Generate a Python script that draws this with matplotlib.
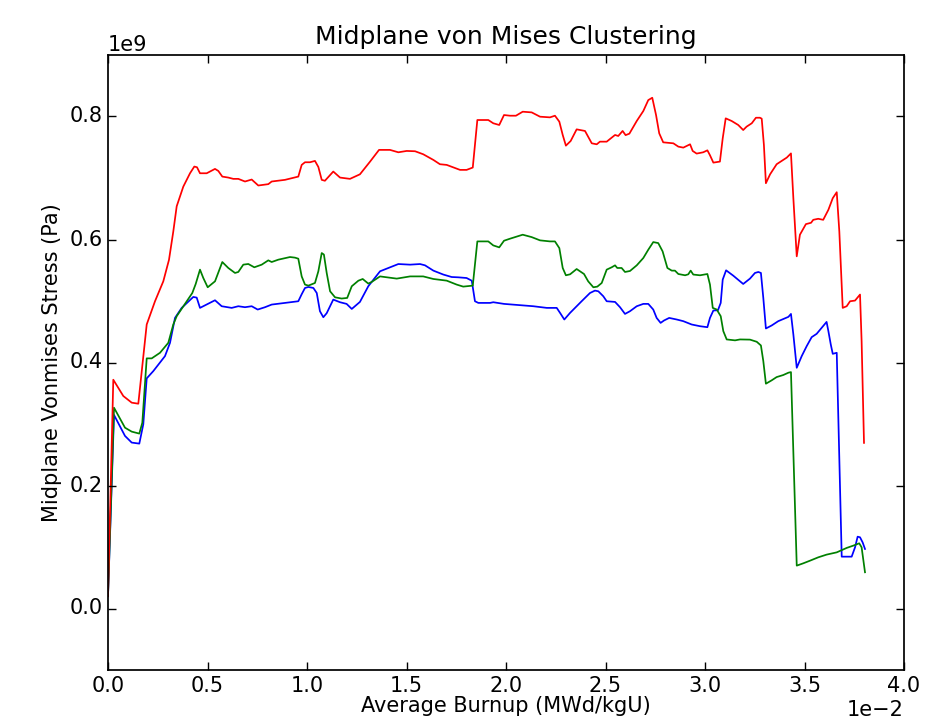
"""
plot.py  -  Midplane von Mises stress vs. average burnup for three clusters.
"""

import matplotlib
matplotlib.use("Agg")
import matplotlib.pyplot as plt
from matplotlib.ticker import MultipleLocator

# ---------------------------------------------------------------------------
# Data (burnup in MWd/kgU, stress in GPa -> converted to Pa when plotted)
# ---------------------------------------------------------------------------
blue_burnup = [
    0.0, 0.000302, 0.000854, 0.001191, 0.001573, 0.001774, 0.001945, 0.002276,
    0.002864, 0.003116, 0.003367, 0.003703, 0.004286, 0.004457, 0.004623,
    0.005377, 0.005713, 0.006216, 0.006548, 0.006884, 0.007221, 0.007522,
    0.007889, 0.008226, 0.008894, 0.009563, 0.009733, 0.009899, 0.01007,
    0.01032, 0.01049, 0.01065, 0.01082, 0.01099, 0.01132, 0.01166, 0.01199,
    0.01225, 0.01266, 0.01308, 0.01367, 0.01409, 0.01459, 0.01518, 0.01568,
    0.01593, 0.01635, 0.01685, 0.01727, 0.0176, 0.01802, 0.01828, 0.01844,
    0.01861, 0.0192, 0.01936, 0.0199, 0.02137, 0.02205, 0.02255, 0.02275,
    0.02293, 0.02322, 0.0238, 0.02422, 0.02447, 0.02464, 0.02489, 0.02506,
    0.02548, 0.02573, 0.02598, 0.02623, 0.02657, 0.0269, 0.02715, 0.0274,
    0.02757, 0.02777, 0.02794, 0.0282, 0.02858, 0.02891, 0.02933, 0.02975,
    0.03012, 0.03025, 0.03042, 0.03065, 0.03079, 0.03089, 0.03106, 0.03142,
    0.03192, 0.03226, 0.03251, 0.03268, 0.03281, 0.03293, 0.03306, 0.03335,
    0.03368, 0.03419, 0.03432, 0.03444, 0.03461, 0.03486, 0.03511, 0.03536,
    0.03561, 0.03586, 0.03611, 0.0362, 0.03632, 0.03642, 0.03662, 0.03687,
    0.03737, 0.03754, 0.03767, 0.03779, 0.03792, 0.03804,
]
blue_stress = [
    0.02, 0.3147, 0.2806, 0.2698, 0.2681, 0.2996, 0.3742, 0.386,
    0.4104, 0.432, 0.4725, 0.4888, 0.5066, 0.5055, 0.4888,
    0.5012, 0.4915, 0.4888, 0.4915, 0.4899, 0.4915, 0.4861,
    0.4899, 0.4942, 0.4969, 0.4996, 0.511, 0.5212, 0.5228,
    0.5212, 0.513, 0.4834, 0.4736, 0.4802, 0.5023, 0.498, 0.4953,
    0.4871, 0.4985, 0.524, 0.5483, 0.5537, 0.5601, 0.5591, 0.5601,
    0.558, 0.5494, 0.543, 0.539, 0.5385, 0.5374, 0.533, 0.4996,
    0.4969, 0.4969, 0.498, 0.4953, 0.4915, 0.4888, 0.4888, 0.479,
    0.4699, 0.4807, 0.4996, 0.513, 0.5169, 0.5158, 0.5077, 0.4996,
    0.4985, 0.4899, 0.479, 0.4834, 0.4915, 0.4953, 0.4953, 0.4861,
    0.4725, 0.4644, 0.4683, 0.4725, 0.4699, 0.4672, 0.4618, 0.459,
    0.4574, 0.4725, 0.4845, 0.485, 0.4969, 0.5348, 0.5499, 0.5412,
    0.5277, 0.5364, 0.5456, 0.5472, 0.5456, 0.505, 0.4553, 0.4602,
    0.4672, 0.4742, 0.479, 0.4456, 0.3914, 0.4104, 0.4266, 0.4412,
    0.4466, 0.4563, 0.466, 0.451, 0.4294, 0.4141, 0.4158, 0.0843,
    0.0843, 0.0995, 0.1168, 0.1158, 0.1076, 0.0968,
]

green_burnup = [
    0.0, 0.000302, 0.000854, 0.001191, 0.001573, 0.001724, 0.001945, 0.002196,
    0.002613, 0.00303, 0.003281, 0.003452, 0.003869, 0.004236, 0.004407,
    0.004623, 0.004789, 0.00501, 0.005377, 0.005744, 0.006045, 0.006382,
    0.006548, 0.006799, 0.00705, 0.007352, 0.007724, 0.008055, 0.008226,
    0.008558, 0.009146, 0.009397, 0.009563, 0.009733, 0.009899, 0.01007,
    0.0104, 0.01057, 0.01074, 0.01085, 0.01099, 0.01116, 0.01141, 0.01174,
    0.01202, 0.01225, 0.01258, 0.0128, 0.01308, 0.01325, 0.01367, 0.01451,
    0.01518, 0.01584, 0.01635, 0.01702, 0.01752, 0.01785, 0.01833, 0.01856,
    0.01911, 0.01936, 0.01966, 0.0199, 0.0202, 0.02084, 0.02129, 0.02171,
    0.02221, 0.02246, 0.02268, 0.02285, 0.02301, 0.02322, 0.02355, 0.02392,
    0.02413, 0.02439, 0.02459, 0.02481, 0.02506, 0.02531, 0.02548, 0.02559,
    0.02581, 0.02598, 0.02623, 0.02657, 0.0269, 0.02715, 0.0274, 0.02765,
    0.02787, 0.02811, 0.02833, 0.02849, 0.02866, 0.029, 0.02916, 0.02928,
    0.02941, 0.02975, 0.03012, 0.03025, 0.03039, 0.03059, 0.03079, 0.03092,
    0.03109, 0.03151, 0.03176, 0.03226, 0.0326, 0.03281, 0.03293, 0.03306,
    0.03335, 0.0336, 0.03393, 0.03419, 0.03432, 0.03461, 0.03494, 0.03528,
    0.03569, 0.03611, 0.03662, 0.03712, 0.03745, 0.03775, 0.03787, 0.03804,
]
green_stress = [
    0.02, 0.3265, 0.294, 0.2876, 0.2844, 0.302, 0.4067, 0.4067,
    0.4158, 0.432, 0.4618, 0.4753, 0.4953, 0.513, 0.5277,
    0.551, 0.5374, 0.5223, 0.532, 0.5634, 0.5537, 0.5456,
    0.5472, 0.5591, 0.5602, 0.5548, 0.5591, 0.5661, 0.5634,
    0.5672, 0.5715, 0.5705, 0.5688, 0.54, 0.5267, 0.525,
    0.5293, 0.5483, 0.578, 0.5755, 0.5456, 0.5158, 0.506, 0.504,
    0.505, 0.524, 0.533, 0.5358, 0.5283, 0.531, 0.54, 0.5364,
    0.54, 0.54, 0.5358, 0.5331, 0.5267, 0.5234, 0.525, 0.5969,
    0.5969, 0.5904, 0.5872, 0.598, 0.6013, 0.6078, 0.6039, 0.5986,
    0.5969, 0.5969, 0.586, 0.5537, 0.5418, 0.5434, 0.552, 0.5439,
    0.532, 0.5223, 0.5234, 0.5293, 0.551, 0.5548, 0.558, 0.5537,
    0.5537, 0.5472, 0.5488, 0.558, 0.5699, 0.5834, 0.5958, 0.5942,
    0.5807, 0.5537, 0.5494, 0.5494, 0.5439, 0.5418, 0.5434, 0.5494,
    0.543, 0.5418, 0.5439, 0.5267, 0.4888, 0.4861, 0.4753, 0.451,
    0.4375, 0.436, 0.4375, 0.4372, 0.4337, 0.4277, 0.4023, 0.3655,
    0.371, 0.3763, 0.3796, 0.3834, 0.3844, 0.0697, 0.0735, 0.0778,
    0.0832, 0.0876, 0.0913, 0.0985, 0.1022, 0.106, 0.0995, 0.0589,
]

red_burnup = [
    0.0, 0.000266, 0.000769, 0.001191, 0.001523, 0.001945, 0.002362, 0.002779,
    0.003065, 0.003281, 0.003452, 0.003784, 0.004121, 0.004337, 0.004472,
    0.004623, 0.00496, 0.005377, 0.005543, 0.005744, 0.006045, 0.006296,
    0.006548, 0.006884, 0.007221, 0.007553, 0.008055, 0.008226, 0.008894,
    0.009563, 0.009733, 0.009899, 0.01015, 0.0104, 0.01057, 0.01074, 0.0109,
    0.01132, 0.01166, 0.01216, 0.01266, 0.01317, 0.01362, 0.01417, 0.01459,
    0.01501, 0.01543, 0.01584, 0.01635, 0.01668, 0.01702, 0.01769, 0.01802,
    0.01833, 0.01856, 0.01911, 0.01936, 0.01966, 0.0199, 0.0202, 0.0205,
    0.02084, 0.02129, 0.02171, 0.02221, 0.02246, 0.02268, 0.02285, 0.02301,
    0.02325, 0.02355, 0.02397, 0.02431, 0.02456, 0.02472, 0.02506, 0.02548,
    0.02564, 0.02586, 0.02601, 0.0262, 0.02657, 0.0269, 0.02715, 0.02735,
    0.02754, 0.0277, 0.0279, 0.02841, 0.02866, 0.02891, 0.02925, 0.02938,
    0.02958, 0.02991, 0.03012, 0.03025, 0.03042, 0.03075, 0.03089, 0.03104,
    0.03134, 0.03167, 0.03192, 0.03209, 0.03235, 0.03256, 0.03276, 0.03285,
    0.03296, 0.03306, 0.03327, 0.0336, 0.03411, 0.03432, 0.03444, 0.03461,
    0.03477, 0.03507, 0.03533, 0.03544, 0.03569, 0.03594, 0.0362, 0.03642,
    0.03662, 0.03675, 0.03692, 0.03712, 0.03729, 0.03754, 0.03779, 0.03787,
    0.03799,
]
red_stress = [
    0.02, 0.372, 0.3455, 0.3347, 0.333, 0.4618, 0.4996, 0.532,
    0.567, 0.613, 0.654, 0.686, 0.7077, 0.7186, 0.7175,
    0.7077, 0.7077, 0.7148, 0.7115, 0.7023, 0.7007, 0.6986,
    0.6986, 0.6943, 0.6975, 0.6878, 0.69, 0.6943, 0.697,
    0.7023, 0.7213, 0.7256, 0.7256, 0.7278, 0.718, 0.697, 0.6955,
    0.7105, 0.7007, 0.6986, 0.706, 0.7267, 0.7457, 0.7457, 0.7418,
    0.744, 0.7435, 0.7386, 0.7294, 0.7224, 0.7213, 0.7132, 0.7132,
    0.717, 0.7943, 0.7943, 0.789, 0.7862, 0.8024, 0.8013, 0.8013,
    0.8078, 0.8067, 0.7997, 0.7986, 0.8013, 0.7916, 0.77, 0.7526,
    0.7602, 0.7791, 0.7765, 0.7564, 0.7548, 0.7591, 0.7591, 0.77,
    0.7683, 0.7765, 0.7697, 0.7721, 0.7927, 0.8089, 0.8267, 0.8305,
    0.8024, 0.7726, 0.758, 0.7564, 0.751, 0.7494, 0.7548, 0.744,
    0.7397, 0.7418, 0.745, 0.737, 0.725, 0.7267, 0.7645, 0.797,
    0.7927, 0.7862, 0.778, 0.7835, 0.789, 0.798, 0.798, 0.7965,
    0.7537, 0.6915, 0.706, 0.7224, 0.7332, 0.74, 0.6672, 0.5726,
    0.6078, 0.625, 0.6272, 0.632, 0.6337, 0.632, 0.6483, 0.6672,
    0.6769, 0.613, 0.4888, 0.4915, 0.4996, 0.5007, 0.5105, 0.4347,
    0.2693,
]

SERIES = [
    (blue_burnup, blue_stress, "b"),
    (green_burnup, green_stress, "g"),
    (red_burnup, red_stress, "r"),
]

# ---------------------------------------------------------------------------
# Plot
# ---------------------------------------------------------------------------
plt.style.use("classic")
plt.rcParams["font.family"] = ["DejaVu Sans"]
plt.rcParams["font.size"] = 15
plt.rcParams["lines.linewidth"] = 1.25
plt.rcParams["axes.linewidth"] = 1.25
for axis in ("xtick", "ytick"):
    plt.rcParams[f"{axis}.major.size"] = 5.5
    plt.rcParams[f"{axis}.minor.size"] = 3
    plt.rcParams[f"{axis}.major.width"] = 1.0

fig = plt.figure(figsize=(9.52, 7.2), dpi=100)
ax = fig.add_axes([108 / 952, 50 / 720, 796 / 952, 615 / 720])

for burnup, stress, color in SERIES:
    ax.plot(burnup, [s * 1e9 for s in stress], color=color)

ax.set_xlim(0.0, 0.04)
ax.set_ylim(-0.1e9, 0.9e9)
ax.xaxis.set_major_locator(MultipleLocator(0.005))
ax.yaxis.set_major_locator(MultipleLocator(0.2e9))
# fixed multipliers: 1e-2 on x, 1e9 on y
ax.ticklabel_format(style="sci", axis="x", scilimits=(-2, -2))
ax.ticklabel_format(style="sci", axis="y", scilimits=(9, 9))

ax.set_title("Midplane von Mises Clustering", fontsize=18, pad=8)
ax.set_xlabel("Average Burnup (MWd/kgU)", labelpad=0)
ax.set_ylabel("Midplane Vonmises Stress (Pa)")

fig.savefig("out.png", dpi=100, facecolor="white")
